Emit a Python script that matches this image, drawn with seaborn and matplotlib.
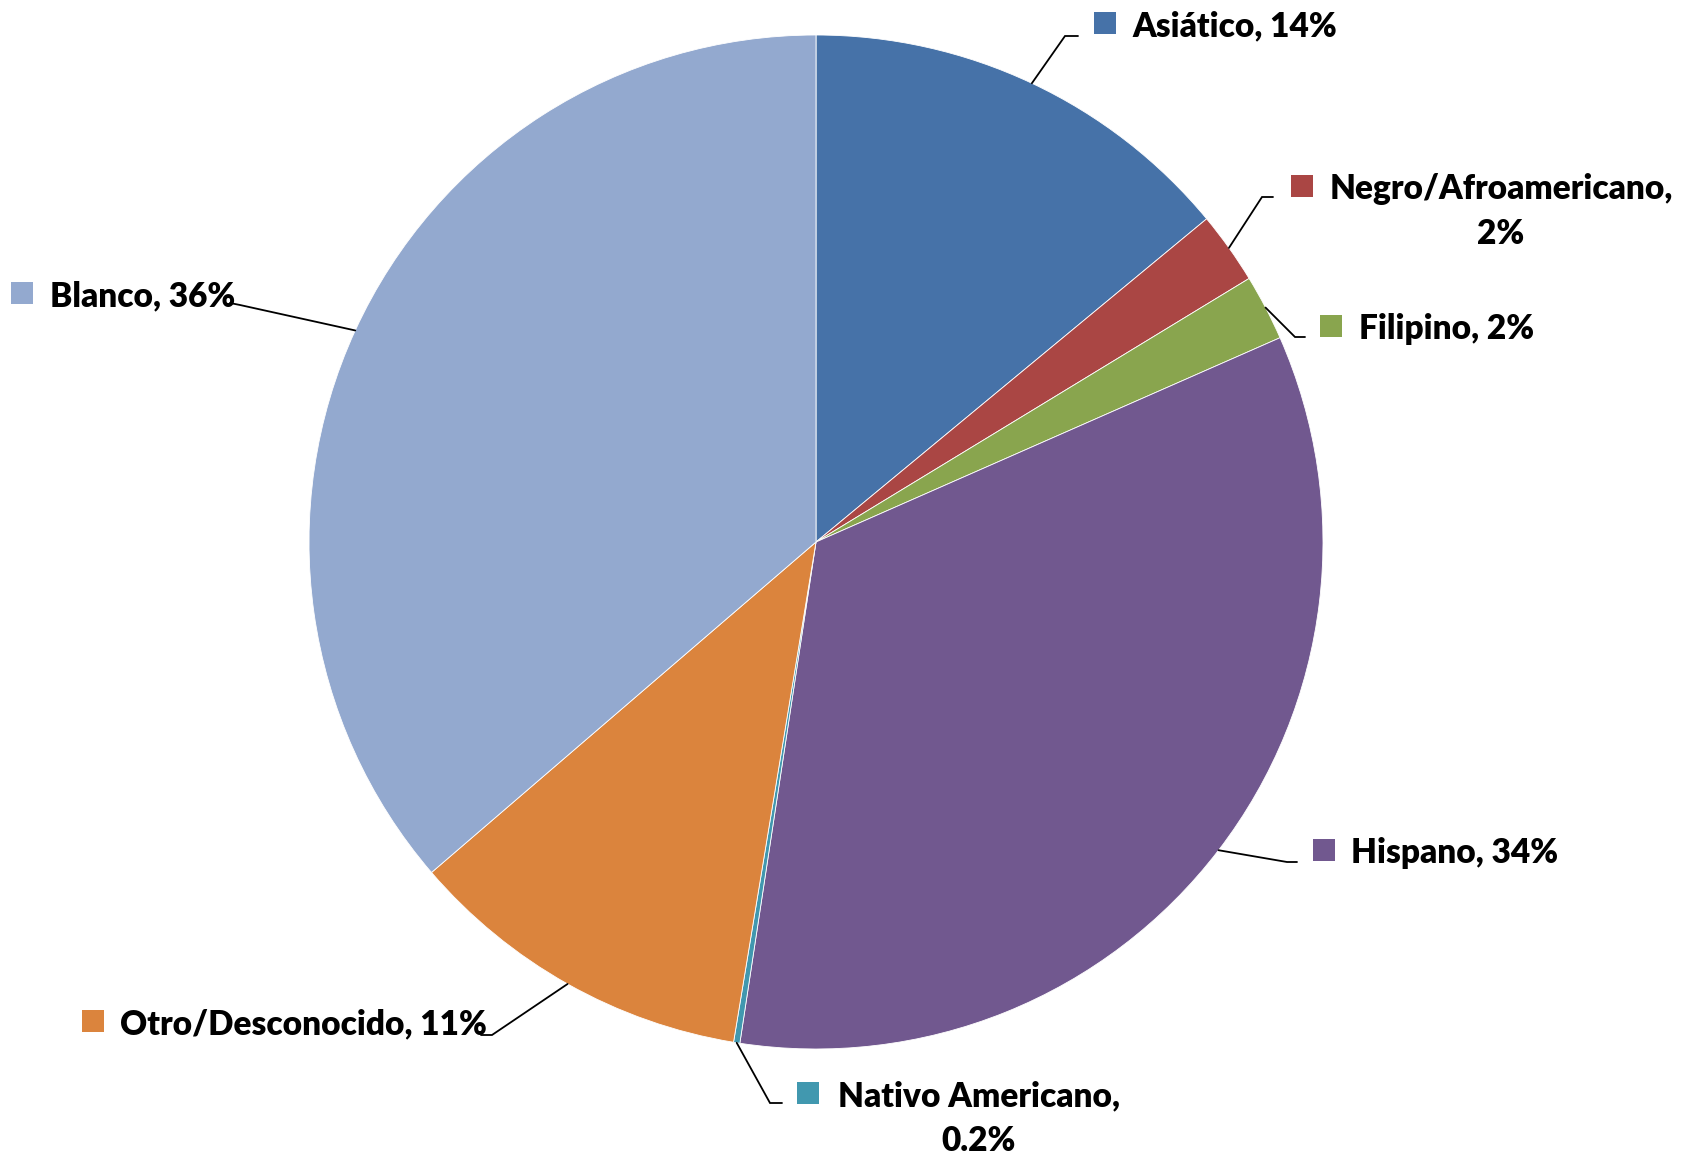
import matplotlib
matplotlib.use('Agg')
import matplotlib.pyplot as plt
import seaborn as sns
import numpy as np

# ######################################################## data
categories = ['Asiático', 'Negro/Afroamericano', 'Filipino', 'Hispano',
              'Nativo Americano', 'Otro/Desconocido', 'Blanco']
shares = [14.0, 2.3, 2.1, 34.0, 0.2, 11.1, 36.3]
pct_labels = ['14%', '2%', '2%', '34%', '0.2%', '11%', '36%']
colors = ['#4672A8', '#AA4644', '#89A54E', '#71588F', '#4198AF', '#DB843D', '#93A9CF']

# ######################################################## layout (pixel coords, y down)
W, H = 1696, 1154
cx, cy, r = 816, 542, 507
label_pos = {
    'Asiático': dict(sq=1105, tx=1132, ty=23, ha='left', elbow=(1065, 36), end=(1078, 36)),
    'Negro/Afroamericano': dict(sq=1302, tx=1501, ty=186, ha='center', elbow=(1262, 197), end=(1273, 197)),
    'Filipino': dict(sq=1331, tx=1359, ty=326, ha='left', elbow=(1295, 337), end=(1305, 337)),
    'Hispano': dict(sq=1324, tx=1351, ty=850, ha='left', elbow=(1287, 862), end=(1297, 862)),
    'Nativo Americano': dict(sq=808, tx=979, ty=1093, ha='center', elbow=(770, 1103), end=(782, 1103)),
    'Otro/Desconocido': dict(sq=93, tx=120, ty=1021, ha='left', elbow=(492, 1035), end=(481, 1035)),
    'Blanco': dict(sq=22, tx=50, ty=293, ha='left', elbow=(240, 305), end=(230, 303)),
}

sns.set_theme(style='white')
plt.rcParams['font.family'] = ['Lato', 'DejaVu Sans']

fig = plt.figure(figsize=(W / 100, H / 100), dpi=100)
ax = fig.add_axes([0, 0, 1, 1])

wedges, _ = ax.pie(shares, colors=colors, startangle=90, counterclock=False,
                   center=(cx, H - cy), radius=r,
                   wedgeprops=dict(edgecolor='white', linewidth=0.6))
# pie() resets the limits, so set them afterwards
ax.set_xlim(0, W)
ax.set_ylim(0, H)
ax.set_aspect('equal')
ax.axis('off')

fs = 24
txt_kw = dict(fontsize=fs, fontweight='heavy', color='black', va='center_baseline')
for w, cat, pct in zip(wedges, categories, pct_labels):
    p = label_pos[cat]
    mid = np.deg2rad((w.theta1 + w.theta2) / 2)
    sx, sy = cx + r * np.cos(mid), (H - cy) + r * np.sin(mid)
    ex, ey = p['elbow']
    fx, fy = p['end']
    ax.plot([sx, ex, fx], [sy, H - ey, H - fy], color='black', lw=1.3,
            solid_joinstyle='miter', zorder=3)
    # legend key square
    ax.scatter([p['sq']], [H - p['ty']], marker='s', s=230, color=w.get_facecolor(),
               linewidths=0, zorder=4)
    if p['ha'] == 'center':
        ax.text(p['tx'], H - p['ty'], f'{cat},', ha='center', **txt_kw)
        ax.text(p['tx'], H - p['ty'] - 45, pct, ha='center', **txt_kw)
    else:
        ax.text(p['tx'], H - p['ty'], f'{cat}, {pct}', ha='left', **txt_kw)

fig.savefig('out.png', dpi=100, facecolor='white')
